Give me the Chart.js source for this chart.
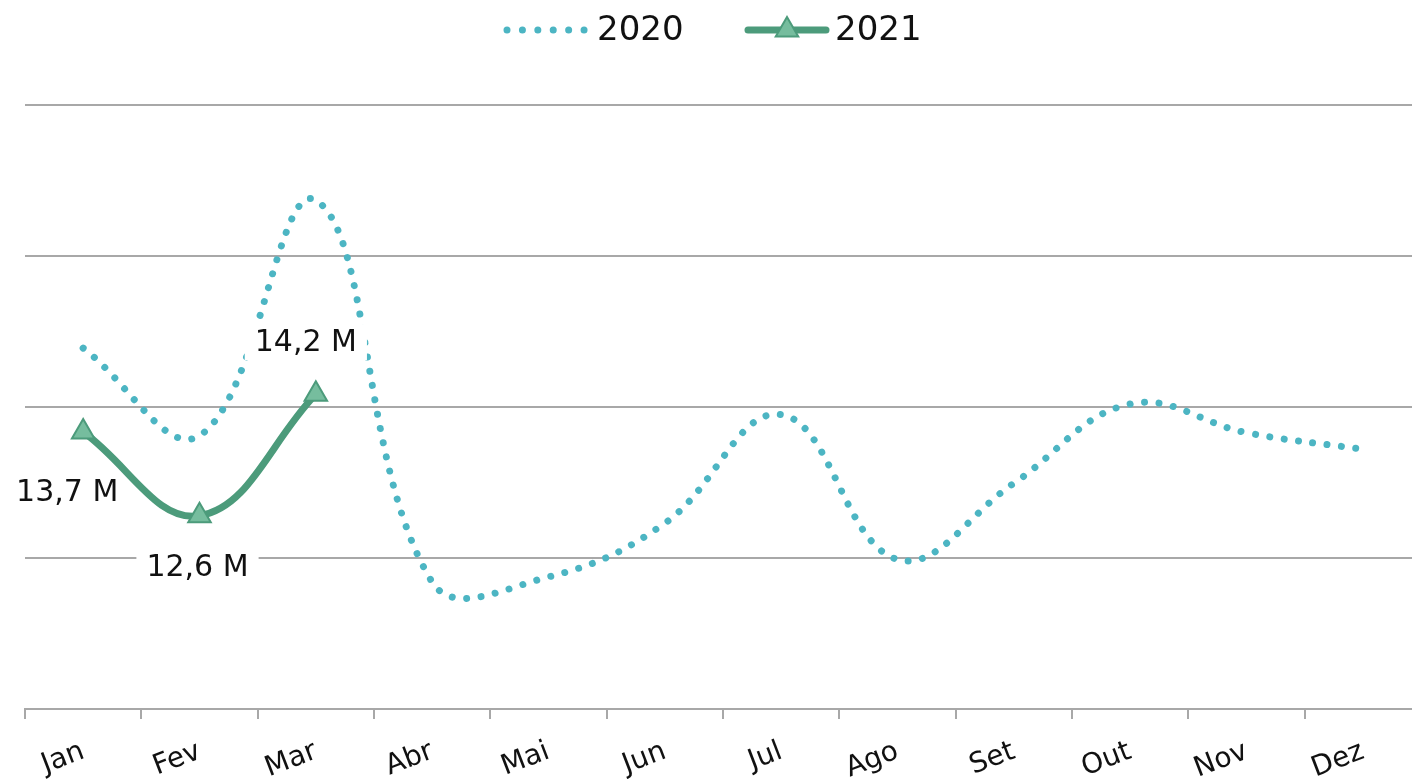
<!DOCTYPE html>
<html lang="pt">
<head>
  <meta charset="UTF-8" />
  <title>Vendas 2020 x 2021</title>
  <script src="https://cdn.jsdelivr.net/npm/chart.js@4"></script>
  <style>
    * { box-sizing: border-box; margin: 0; padding: 0; }
    html, body { background: #fff; overflow: hidden; width: 1412px; height: 781px; }
    canvas { display: block; }
  </style>
</head>
<body>
  <canvas id="chart" width="1412" height="781"></canvas>

  <script>
// chart data
const months = ['Jan', 'Fev', 'Mar', 'Abr', 'Mai', 'Jun', 'Jul', 'Ago', 'Set', 'Out', 'Nov', 'Dez'];
const values2020 = [14.78, 13.62, 16.74, 11.68, 11.75, 12.46, 13.9, 11.98, 12.99, 14.04, 13.66, 13.44];
const values2021 = [13.67, 12.56, 14.17, null, null, null, null, null, null, null, null, null];
const seriesNames = ['2020', '2021'];
const yMin = 10, yMax = 18, yStep = 2;

const FONT = '"DejaVu Sans", sans-serif';
const TEAL = '#4cb5c3';
const GREEN = '#4c9b7b';
const GREEN_FILL = '#76bd9e';
const GRID = '#a8a8a8';

// the plot runs a little past the right edge of the picture
const PLOT_RIGHT = 1421;

// where each 2021 label sits relative to its point
const labelOffsets = [
  { dx: -16, dy: 60 },
  { dx: -2, dy: 51 },
  { dx: -10, dy: -52 }
];

function fmt(v) {
  return v.toFixed(1).replace('.', ',') + ' M';
}

// stretch the x scale to PLOT_RIGHT after layout
const stretchX = {
  id: 'stretchX',
  afterLayout(chart) {
    const x = chart.scales.x;
    x.right = PLOT_RIGHT;
    x.width = x.right - x.left;
    x.configure();
    chart.chartArea.right = PLOT_RIGHT;
    chart.chartArea.width = PLOT_RIGHT - chart.chartArea.left;
    const y = chart.scales.y;
    y.right = y.left;
  }
};

// data labels with white background, drawn after the 2020 line and before the 2021 line
const valueLabels = {
  id: 'valueLabels',
  afterDatasetDraw(chart, args) {
    if (args.index !== 0) return;
    const ctx = chart.ctx;
    const meta = chart.getDatasetMeta(1);
    ctx.save();
    ctx.font = '30px ' + FONT;
    ctx.textAlign = 'center';
    ctx.textBaseline = 'middle';
    meta.data.forEach((pt, i) => {
      const v = values2021[i];
      if (v === null || !labelOffsets[i]) return;
      const x = pt.x + labelOffsets[i].dx;
      const y = pt.y + labelOffsets[i].dy;
      const text = fmt(v);
      const w = ctx.measureText(text).width;
      ctx.fillStyle = '#fff';
      ctx.fillRect(x - w / 2 - 10, y - 18, w + 20, 36);
      ctx.fillStyle = '#111';
      ctx.fillText(text, x, y + 1);
    });
    ctx.restore();
  }
};

// legend drawn by hand: dotted line for 2020, line with triangle for 2021
const customLegend = {
  id: 'customLegend',
  afterDraw(chart) {
    const ctx = chart.ctx;
    const y = 30;
    ctx.save();
    ctx.lineCap = 'round';

    ctx.strokeStyle = TEAL;
    ctx.lineWidth = 7;
    ctx.setLineDash([0.01, 15.4]);
    ctx.beginPath();
    ctx.moveTo(507, y);
    ctx.lineTo(585, y);
    ctx.stroke();
    ctx.setLineDash([]);

    ctx.strokeStyle = GREEN;
    ctx.lineWidth = 7;
    ctx.beginPath();
    ctx.moveTo(748, y);
    ctx.lineTo(826, y);
    ctx.stroke();

    const r = 13;
    ctx.beginPath();
    ctx.moveTo(787, y - r);
    ctx.lineTo(787 + r * 0.866, y + r / 2);
    ctx.lineTo(787 - r * 0.866, y + r / 2);
    ctx.closePath();
    ctx.fillStyle = GREEN_FILL;
    ctx.fill();
    ctx.lineWidth = 2;
    ctx.lineJoin = 'miter';
    ctx.stroke();

    ctx.fillStyle = '#111';
    ctx.font = '34px ' + FONT;
    ctx.textAlign = 'left';
    ctx.textBaseline = 'middle';
    ctx.fillText(seriesNames[0], 597, y + 1);
    ctx.fillText(seriesNames[1], 835, y + 1);
    ctx.restore();
  }
};

new Chart(document.getElementById('chart'), {
  type: 'line',
  data: {
    labels: months,
    datasets: [
      {
        label: seriesNames[0],
        data: values2020,
        order: 2,
        borderColor: TEAL,
        borderWidth: 7,
        borderDash: [0.01, 14.5],
        borderCapStyle: 'round',
        tension: 0.4,
        pointRadius: 0,
        fill: false
      },
      {
        label: seriesNames[1],
        data: values2021,
        order: 1,
        borderColor: GREEN,
        borderWidth: 7,
        borderCapStyle: 'round',
        tension: 0.4,
        pointStyle: 'triangle',
        pointRadius: 13,
        pointBackgroundColor: GREEN_FILL,
        pointBorderColor: GREEN,
        pointBorderWidth: 2,
        fill: false
      }
    ]
  },
  options: {
    responsive: false,
    animation: false,
    devicePixelRatio: 1,
    layout: { padding: { top: 105, left: 25, right: 0, bottom: 0 } },
    plugins: {
      legend: { display: false },
      tooltip: { enabled: false }
    },
    scales: {
      x: {
        offset: true,
        grid: {
          offset: true,
          drawOnChartArea: false,
          drawTicks: true,
          tickLength: 10,
          color: GRID,
          lineWidth: 2
        },
        border: { display: true, color: GRID, width: 2 },
        ticks: {
          color: '#111',
          font: { family: FONT, size: 28 },
          minRotation: 21,
          maxRotation: 21,
          padding: 16
        },
        afterFit(scale) {
          scale.height = 72;
          scale.paddingLeft = 0;
          scale.paddingRight = 0;
        }
      },
      y: {
        min: yMin,
        max: yMax,
        ticks: { display: false, stepSize: yStep },
        grid: { color: GRID, lineWidth: 2, drawTicks: false },
        border: { display: false },
        afterFit(scale) { scale.width = 0; }
      }
    }
  },
  plugins: [stretchX, valueLabels, customLegend]
});
  </script>
</body>
</html>
